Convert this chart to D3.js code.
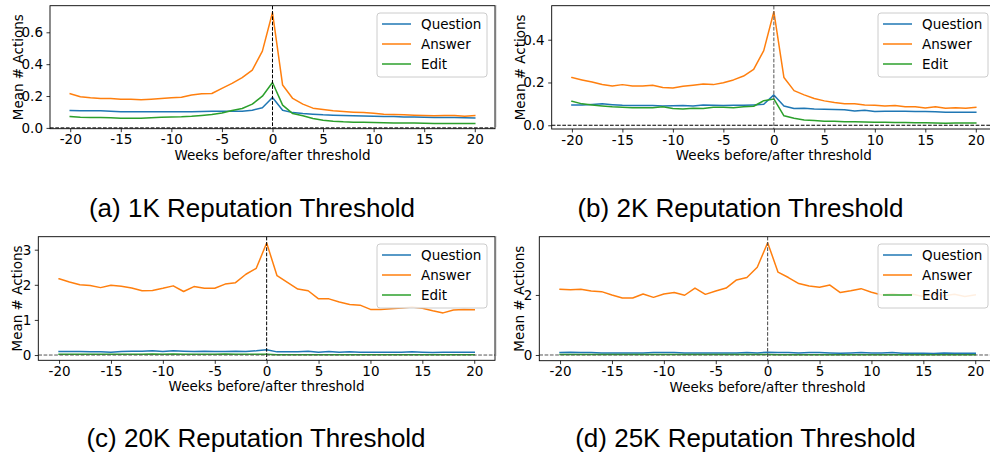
<!DOCTYPE html>
<html>
<head>
<meta charset="utf-8">
<script src="https://cdn.jsdelivr.net/npm/d3@7"></script>
<style>
  html, body { margin: 0; padding: 0; background: #fff; }
  svg { display: block; }
  text { font-family: "DejaVu Sans", sans-serif; }
</style>
</head>
<body>
<div id="chart"></div>
<script>
// ---------- data ----------
const weeks = [-20,-19,-18,-17,-16,-15,-14,-13,-12,-11,-10,-9,-8,-7,-6,-5,-4,-3,-2,-1,0,
               1,2,3,4,5,6,7,8,9,10,11,12,13,14,15,16,17,18,19,20];
const seriesNames = ["Question", "Answer", "Edit"];
const xTicks = [-20, -15, -10, -5, 0, 5, 10, 15, 20];

// (a) 1K
const question1K = [0.109,0.107,0.107,0.107,0.105,0.102,0.102,0.102,0.101,0.101,0.102,0.102,0.102,0.103,0.104,0.104,0.104,0.105,0.111,0.126,0.191,
                    0.111,0.096,0.090,0.086,0.082,0.080,0.078,0.077,0.075,0.073,0.072,0.071,0.069,0.068,0.067,0.066,0.065,0.065,0.064,0.063];
const answer1K   = [0.214,0.195,0.189,0.185,0.185,0.180,0.180,0.176,0.180,0.185,0.189,0.193,0.206,0.214,0.216,0.248,0.279,0.315,0.363,0.482,0.724,
                    0.269,0.185,0.149,0.124,0.115,0.107,0.103,0.099,0.096,0.092,0.086,0.084,0.082,0.080,0.078,0.076,0.078,0.078,0.073,0.078];
const edit1K     = [0.071,0.067,0.066,0.065,0.064,0.061,0.061,0.061,0.064,0.067,0.069,0.070,0.073,0.078,0.084,0.094,0.109,0.122,0.149,0.199,0.285,
                    0.143,0.090,0.076,0.059,0.048,0.042,0.038,0.036,0.035,0.034,0.033,0.031,0.030,0.030,0.029,0.028,0.028,0.028,0.027,0.027];
// (b) 2K
const question2K = [0.095,0.095,0.097,0.100,0.096,0.093,0.092,0.092,0.092,0.090,0.091,0.092,0.090,0.095,0.093,0.092,0.093,0.093,0.095,0.098,0.142,
                    0.090,0.078,0.079,0.076,0.075,0.074,0.072,0.067,0.070,0.064,0.065,0.065,0.065,0.064,0.064,0.063,0.061,0.061,0.061,0.061];
const answer2K   = [0.223,0.212,0.202,0.191,0.184,0.190,0.184,0.184,0.187,0.177,0.174,0.182,0.187,0.193,0.190,0.199,0.212,0.230,0.261,0.349,0.531,
                    0.223,0.162,0.142,0.125,0.114,0.106,0.101,0.100,0.095,0.093,0.090,0.092,0.087,0.087,0.081,0.087,0.079,0.082,0.079,0.084];
const edit2K     = [0.112,0.100,0.095,0.090,0.086,0.084,0.082,0.082,0.082,0.086,0.078,0.076,0.079,0.078,0.084,0.084,0.082,0.087,0.089,0.115,0.123,
                    0.044,0.033,0.025,0.022,0.019,0.019,0.016,0.016,0.015,0.014,0.014,0.013,0.013,0.012,0.012,0.011,0.009,0.010,0.011,0.011];
// (c) 20K
const question20K = [0.10,0.10,0.10,0.09,0.09,0.08,0.10,0.11,0.11,0.12,0.10,0.12,0.11,0.10,0.11,0.10,0.10,0.11,0.10,0.12,0.15,
                     0.09,0.09,0.09,0.11,0.08,0.10,0.08,0.09,0.08,0.08,0.08,0.08,0.08,0.09,0.08,0.07,0.08,0.08,0.08,0.08];
const answer20K   = [2.17,2.08,2.00,1.98,1.92,1.99,1.96,1.91,1.83,1.84,1.90,1.97,1.81,1.95,1.90,1.90,2.02,2.06,2.30,2.47,3.19,
                     2.26,2.07,1.88,1.83,1.60,1.60,1.51,1.44,1.42,1.30,1.30,1.32,1.34,1.37,1.33,1.26,1.20,1.28,1.30,1.29];
const edit20K     = [0.02,0.02,0.02,0.02,0.02,0.02,0.02,0.02,0.02,0.03,0.02,0.03,0.02,0.02,0.02,0.02,0.03,0.02,0.02,0.02,0.02,
                     0.01,0.01,0.01,0.01,0.01,0.01,0.01,0.01,0.01,0.01,0.01,0.01,0.01,0.01,0.01,0.01,0.01,0.01,0.01,0.01];
// (d) 25K
const question25K = [0.08,0.09,0.08,0.08,0.07,0.07,0.07,0.07,0.07,0.08,0.08,0.08,0.07,0.07,0.07,0.07,0.07,0.07,0.08,0.07,0.09,
                     0.08,0.08,0.07,0.08,0.08,0.07,0.06,0.07,0.08,0.07,0.07,0.08,0.06,0.06,0.06,0.05,0.07,0.06,0.06,0.06];
const answer25K   = [2.19,2.17,2.19,2.13,2.11,2.00,1.90,1.90,2.03,1.92,2.03,2.08,1.99,2.23,2.02,2.13,2.23,2.50,2.58,2.92,3.74,
                     2.76,2.58,2.38,2.30,2.26,2.33,2.08,2.14,2.21,2.09,2.00,2.05,1.98,2.02,1.95,2.00,1.97,2.02,1.95,2.00];
const edit25K     = [0.02,0.02,0.02,0.02,0.02,0.02,0.02,0.02,0.02,0.02,0.02,0.02,0.02,0.02,0.02,0.02,0.02,0.02,0.02,0.02,0.02,
                     0.01,0.01,0.01,0.01,0.01,0.01,0.01,0.01,0.01,0.01,0.01,0.01,0.01,0.01,0.01,0.01,0.01,0.01,0.01,0.01];

const yTicks1K = [0.0, 0.2, 0.4, 0.6];
const yTicks2K = [0.0, 0.2, 0.4];
const yTicks20K = [0, 1, 2, 3];
const yTicks25K = [0, 2];

const captions = ["(a) 1K Reputation Threshold", "(b) 2K Reputation Threshold",
                  "(c) 20K Reputation Threshold", "(d) 25K Reputation Threshold"];
const xLabel = "Weeks before/after threshold";
const yLabel = "Mean # Actions";

// ---------- layout ----------
const W = 990, H = 456;
const colors = ["#1f77b4", "#ff7f0e", "#2ca02c"];

const panels = [
  {data:[question1K, answer1K, edit1K], yTicks:yTicks1K, fmt:".1f", caption:captions[0],
   left:50, right:495, top:5.7, bottom:128.7, yDom:[-0.005, 0.767], ylabX:17.5, capX:252, capY:217,
   vcol:"#000", hcol:"#000"},
  {data:[question2K, answer2K, edit2K], yTicks:yTicks2K, fmt:".1f", caption:captions[1],
   left:551.7, right:996, top:5.7, bottom:129, yDom:[-0.0175, 0.559], ylabX:519.5, capX:740.5, capY:217,
   vcol:"#555", hcol:"#000"},
  {data:[question20K, answer20K, edit20K], yTicks:yTicks20K, fmt:"d", caption:captions[2],
   left:38.3, right:495, top:236.7, bottom:360.3, yDom:[-0.15, 3.37], ylabX:17, capX:256, capY:447,
   vcol:"#000", hcol:"#555"},
  {data:[question25K, answer25K, edit25K], yTicks:yTicks25K, fmt:"d", caption:captions[3],
   left:539.3, right:996, top:236.7, bottom:360.7, yDom:[-0.19, 3.94], ylabX:518.5, capX:745.5, capY:447,
   vcol:"#444", hcol:"#555"}
];

const svg = d3.select("#chart").append("svg")
  .attr("width", W).attr("height", H)
  .attr("viewBox", `0 0 ${W} ${H}`);

svg.append("rect").attr("width", W).attr("height", H).attr("fill", "#fff");

// faint separator line from the original figure crop
svg.append("line").attr("x1", 496).attr("x2", 496).attr("y1", 5).attr("y2", 127)
  .attr("stroke", "#c8c8c8").attr("stroke-width", 1);
svg.append("line").attr("x1", 496).attr("x2", 496).attr("y1", 236).attr("y2", 356)
  .attr("stroke", "#c8c8c8").attr("stroke-width", 1);

panels.forEach((p, pi) => {
  const x = d3.scaleLinear().domain([-22, 22]).range([p.left, p.right]);
  const y = d3.scaleLinear().domain(p.yDom).range([p.bottom, p.top]);
  const g = svg.append("g");
  const clipId = "clip" + pi;
  svg.append("clipPath").attr("id", clipId).append("rect")
    .attr("x", p.left).attr("y", p.top).attr("width", p.right - p.left).attr("height", p.bottom - p.top);

  const plot = g.append("g").attr("clip-path", `url(#${clipId})`);
  const line = d3.line().x((d, i) => x(weeks[i])).y(d => y(d));
  p.data.forEach((s, si) => {
    plot.append("path").datum(s).attr("d", line)
      .attr("fill", "none").attr("stroke", colors[si]).attr("stroke-width", 1.5)
      .attr("stroke-linejoin", "round").attr("stroke-linecap", "square");
  });
  // dashed reference lines
  plot.append("line").attr("x1", x(0)).attr("x2", x(0)).attr("y1", p.top).attr("y2", p.bottom)
    .attr("stroke", p.vcol).attr("stroke-width", 1).attr("stroke-dasharray", "3.7,1.6");
  plot.append("line").attr("x1", p.left).attr("x2", p.right).attr("y1", y(0)).attr("y2", y(0))
    .attr("stroke", p.hcol).attr("stroke-width", 1).attr("stroke-dasharray", "3.7,1.6");

  // axes (plain hyphen-minus like the reference)
  const yFmt = d3.format(p.fmt);
  const xAxis = d3.axisBottom(x).tickValues(xTicks).tickSize(3.5).tickPadding(2.5)
    .tickFormat(d => String(d));
  const yAxis = d3.axisLeft(y).tickValues(p.yTicks).tickSize(3.5).tickPadding(3.5)
    .tickFormat(d => yFmt(d).replace("\u2212", "-"));
  const gx = g.append("g").attr("transform", `translate(0,${p.bottom})`).call(xAxis);
  const gy = g.append("g").attr("transform", `translate(${p.left},0)`).call(yAxis);
  [gx, gy].forEach(a => {
    a.select(".domain").remove();
    a.selectAll(".tick line").attr("stroke", "#000").attr("stroke-width", 0.8);
    a.selectAll(".tick text").attr("fill", "#000").style("font-size", "13.5px")
      .style("font-family", "'DejaVu Sans', sans-serif");
  });

  // frame
  g.append("rect").attr("x", p.left).attr("y", p.top)
    .attr("width", p.right - p.left).attr("height", p.bottom - p.top)
    .attr("fill", "none").attr("stroke", "#000").attr("stroke-width", 0.9);

  // labels
  g.append("text").attr("x", x(0)).attr("y", p.bottom + 31)
    .attr("text-anchor", "middle").style("font-size", "13.5px").attr("fill", "#000").text(xLabel);
  g.append("text")
    .attr("transform", `translate(${p.ylabX},${(p.top + p.bottom) / 2}) rotate(-90)`)
    .attr("text-anchor", "middle").attr("dominant-baseline", "central")
    .style("font-size", "13.5px").attr("fill", "#000").text(yLabel);

  // legend
  const lgW = 110, lgH = 64;
  const lx = p.right - 8 - lgW, ly = p.top + 7.3;
  const lg = g.append("g");
  lg.append("rect").attr("x", lx).attr("y", ly).attr("width", lgW).attr("height", lgH)
    .attr("rx", 3).attr("ry", 3)
    .attr("fill", "#fff").attr("fill-opacity", 0.88)
    .attr("stroke", "#cccccc").attr("stroke-width", 1);
  seriesNames.forEach((n, i) => {
    const cy = ly + 11 + i * 20;
    lg.append("line").attr("x1", lx + 5).attr("x2", lx + 34).attr("y1", cy).attr("y2", cy)
      .attr("stroke", colors[i]).attr("stroke-width", 1.5);
    lg.append("text").attr("x", lx + 44).attr("y", cy).attr("dy", "0.36em")
      .style("font-size", "13.5px").attr("fill", "#000").text(n);
  });

  // caption
  svg.append("text").attr("x", p.capX).attr("y", p.capY).attr("text-anchor", "middle")
    .style("font-family", "'Liberation Sans', Arial, sans-serif").style("font-size", "26px")
    .attr("fill", "#000").text(p.caption);
});
</script>
</body>
</html>
